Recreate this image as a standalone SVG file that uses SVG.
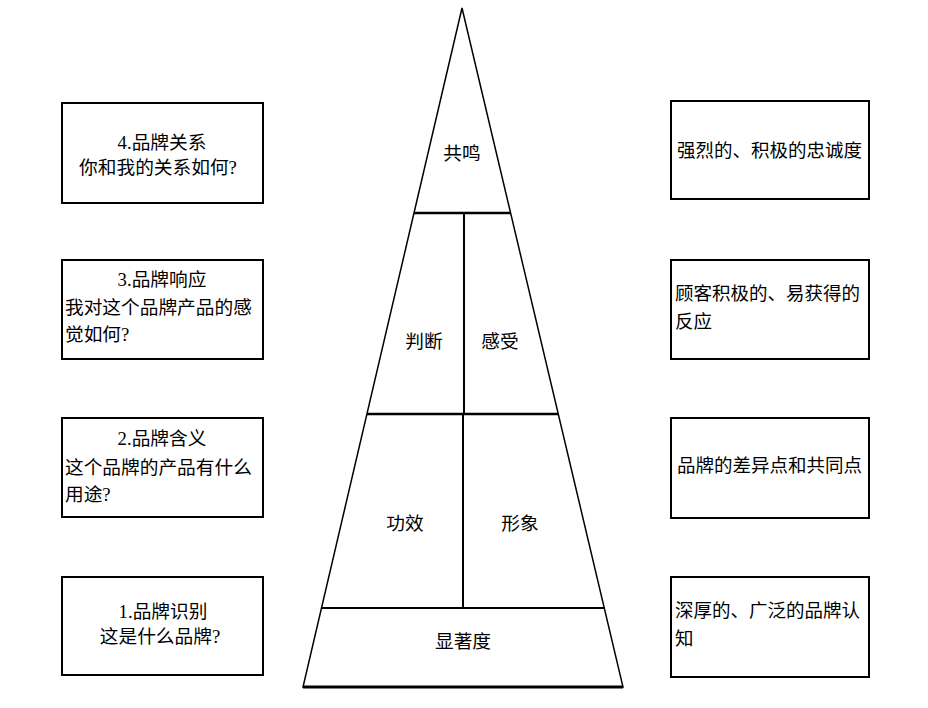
<svg xmlns="http://www.w3.org/2000/svg" width="928" height="708" viewBox="0 0 928 708">
<style>
.box{fill:#fff;stroke:#000;stroke-width:2}
.t{font-family:"Liberation Serif","Noto Sans CJK SC",serif;font-size:18.7px;fill:#000}
.r{font-size:18.5px}
.c{text-anchor:middle}
.edge{stroke:#000;fill:none}
</style>
<rect width="928" height="708" fill="#fff"/>
<g id="pyramid">
<polygon points="462,8 303,687 623,687" fill="#fff" stroke="#000" stroke-width="1.5"/>
<line x1="303" y1="687" x2="623" y2="687" stroke="#000" stroke-width="3"/>
</g>
<g id="connectors">
<line class="edge" x1="414" y1="213" x2="511" y2="213" stroke-width="2.5"/>
<line class="edge" x1="367" y1="414" x2="558" y2="414" stroke-width="2.5"/>
<line class="edge" x1="321" y1="608" x2="604" y2="608" stroke-width="2"/>
<line class="edge" x1="464" y1="213" x2="464" y2="414" stroke-width="2"/>
<line class="edge" x1="463" y1="414" x2="463" y2="608" stroke-width="2"/>
</g>
<g id="p-resonance"><text class="t c" x="462" y="160">共鸣</text></g>
<g id="p-judgment"><text class="t c" x="424" y="348">判断</text></g>
<g id="p-feeling"><text class="t c" x="500" y="348">感受</text></g>
<g id="p-performance"><text class="t c" x="405" y="530">功效</text></g>
<g id="p-imagery"><text class="t c" x="520" y="530">形象</text></g>
<g id="p-salience"><text class="t c" x="463" y="648">显著度</text></g>

<g id="l4"><rect class="box" x="62" y="103" width="201" height="100"/>
<text class="t c" x="162" y="149">4.品牌关系</text>
<text class="t c" x="158" y="174">你和我的关系如何?</text></g>
<g id="l3"><rect class="box" x="62" y="260" width="201" height="99"/>
<text class="t c" x="162" y="286">3.品牌响应</text>
<text class="t" x="65" y="314">我对这个品牌产品的感</text>
<text class="t" x="65" y="341">觉如何?</text></g>
<g id="l2"><rect class="box" x="62" y="418" width="201" height="99"/>
<text class="t c" x="162" y="445">2.品牌含义</text>
<text class="t" x="65" y="474">这个品牌的产品有什么</text>
<text class="t" x="65" y="501">用途?</text></g>
<g id="l1"><rect class="box" x="62" y="577" width="201" height="98"/>
<text class="t c" x="163" y="618">1.品牌识别</text>
<text class="t c" x="160" y="643">这是什么品牌?</text></g>

<g id="r4"><rect class="box" x="671" y="101" width="198" height="98"/>
<text class="t r" x="677" y="157">强烈的、积极的忠诚度</text></g>
<g id="r3"><rect class="box" x="671" y="260" width="198" height="99"/>
<text class="t r" x="675" y="300">顾客积极的、易获得的</text>
<text class="t r" x="675" y="328">反应</text></g>
<g id="r2"><rect class="box" x="671" y="418" width="198" height="100"/>
<text class="t r" x="677" y="472">品牌的差异点和共同点</text></g>
<g id="r1"><rect class="box" x="671" y="577" width="198" height="100"/>
<text class="t r" x="675" y="617">深厚的、广泛的品牌认</text>
<text class="t r" x="675" y="645">知</text></g>
</svg>
